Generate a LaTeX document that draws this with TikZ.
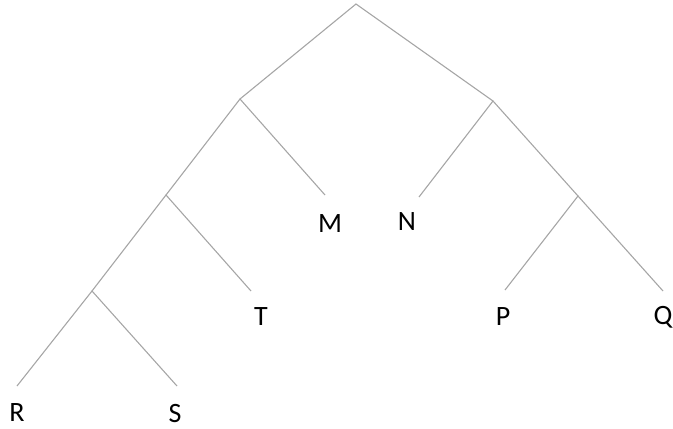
\documentclass[tikz,border=0pt]{standalone}
\usepackage{fontspec}
\setmainfont{Carlito}
\begin{document}
\begin{tikzpicture}[x=1pt,y=-1pt,
  edge/.style={draw=black!35,line width=1.1pt},
  lab/.style={font=\fontsize{28}{30}\selectfont,text=black,inner sep=0pt,anchor=center}]
\useasboundingbox (0,0) rectangle (673,429);
\coordinate (root) at (356,4);
\coordinate (L) at (240,99);
\coordinate (Rt) at (493,101);
\coordinate (LL) at (166,195);
\coordinate (LLL) at (92,291);
\coordinate (RR) at (578,196);
\coordinate (eM) at (325,195);
\coordinate (eN) at (419,197);
\coordinate (eT) at (251,291);
\coordinate (eP) at (505,290);
\coordinate (eQ) at (663,291);
\coordinate (eR) at (17,386);
\coordinate (eS) at (177,386);
\node[lab] (M) at (330,224) {M};
\node[lab] (N) at (407,222) {N};
\node[lab] (T) at (261,317) {T};
\node[lab] (P) at (503,317) {P};
\node[lab] (Q) at (663,317) {Q};
\node[lab] (R) at (17,413) {R};
\node[lab] (S) at (175,414) {S};
\draw[edge] (L) -- (root) -- (Rt);
\draw[edge] (LL) -- (L) -- (eM);
\draw[edge] (LLL) -- (LL) -- (eT);
\draw[edge] (eR) -- (LLL) -- (eS);
\draw[edge] (eN) -- (Rt) -- (RR);
\draw[edge] (eP) -- (RR) -- (eQ);
\end{tikzpicture}
\end{document}
